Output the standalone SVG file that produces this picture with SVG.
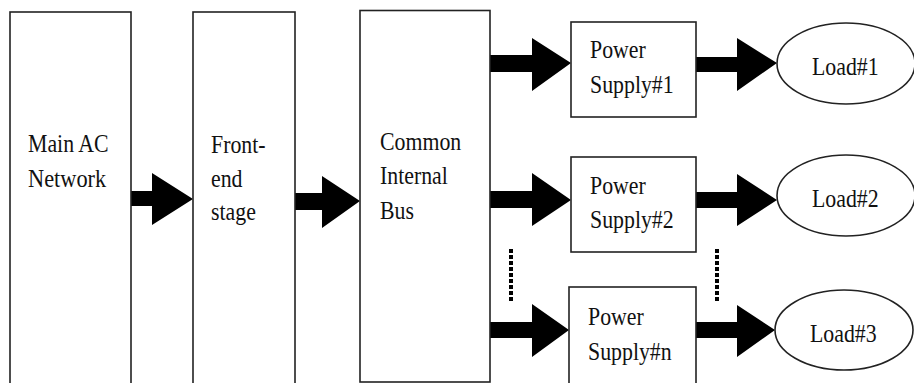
<svg xmlns="http://www.w3.org/2000/svg" width="914" height="383" viewBox="0 0 914 383">
<style>
.box{fill:#fff;stroke:#222;stroke-width:1.6}
.t{font-family:'Liberation Serif','Times New Roman',Times,serif;font-size:26px;fill:#111}
.arr{fill:#000}
.dash{stroke:#000;stroke-width:4;stroke-dasharray:4 2;fill:none}
</style>
<rect width="914" height="383" fill="#fff"/>
<g id="connectors">
<path class="arr" d="M131,191H152V173L193,199L152,225V206H131Z"/>
<path class="arr" d="M295,193H322V176L360,201L322,228V210H295Z"/>
<path class="arr" d="M490,55H532V38L571,63L532,91V72H490Z"/>
<path class="arr" d="M490,191H532V173L571,200L532,226V208H490Z"/>
<path class="arr" d="M490,322H532V304L569,330L532,357V338H490Z"/>
<path class="arr" d="M696,57H737V38L777,63L737,91V72H696Z"/>
<path class="arr" d="M696,192H737V174L777,200L737,226V208H696Z"/>
<path class="arr" d="M696,322H737V305L775,330L737,357V338H696Z"/>
<line class="dash" x1="511" y1="249" x2="511" y2="302"/>
<line class="dash" x1="717" y1="249" x2="717" y2="302"/>
</g>
<g id="main-ac">
<rect class="box" x="10" y="12" width="121" height="380"/>
<text class="t" transform="translate(28,152) scale(0.84,1)">Main AC</text>
<text class="t" transform="translate(28,187) scale(0.86,1)">Network</text>
</g>
<g id="front-end">
<rect class="box" x="193" y="12" width="102" height="380"/>
<text class="t" transform="translate(211,153) scale(0.84,1)">Front-</text>
<text class="t" transform="translate(211,187) scale(0.84,1)">end</text>
<text class="t" transform="translate(211,220) scale(0.84,1)">stage</text>
</g>
<g id="bus">
<rect class="box" x="360" y="10.5" width="130" height="371.5"/>
<text class="t" transform="translate(380,150) scale(0.84,1)">Common</text>
<text class="t" transform="translate(380,184) scale(0.84,1)">Internal</text>
<text class="t" transform="translate(380,219) scale(0.84,1)">Bus</text>
</g>
<g id="ps1">
<rect class="box" x="571" y="22" width="125" height="95"/>
<text class="t" transform="translate(590,58) scale(0.84,1)">Power</text>
<text class="t" transform="translate(590,93) scale(0.84,1)">Supply#1</text>
</g>
<g id="ps2">
<rect class="box" x="571" y="157" width="125" height="95"/>
<text class="t" transform="translate(590,194) scale(0.84,1)">Power</text>
<text class="t" transform="translate(590,228) scale(0.84,1)">Supply#2</text>
</g>
<g id="psn">
<rect class="box" x="569" y="287" width="127" height="105"/>
<text class="t" transform="translate(588,325) scale(0.84,1)">Power</text>
<text class="t" transform="translate(588,360) scale(0.84,1)">Supply#n</text>
</g>
<g id="load1">
<ellipse class="box" cx="846" cy="63.5" rx="69" ry="40.5"/>
<text class="t" transform="translate(812,75) scale(0.84,1)">Load#1</text>
</g>
<g id="load2">
<ellipse class="box" cx="846" cy="195.5" rx="69" ry="40.5"/>
<text class="t" transform="translate(812,207) scale(0.84,1)">Load#2</text>
</g>
<g id="load3">
<ellipse class="box" cx="844" cy="330" rx="69" ry="40"/>
<text class="t" transform="translate(810,342) scale(0.84,1)">Load#3</text>
</g>
</svg>
